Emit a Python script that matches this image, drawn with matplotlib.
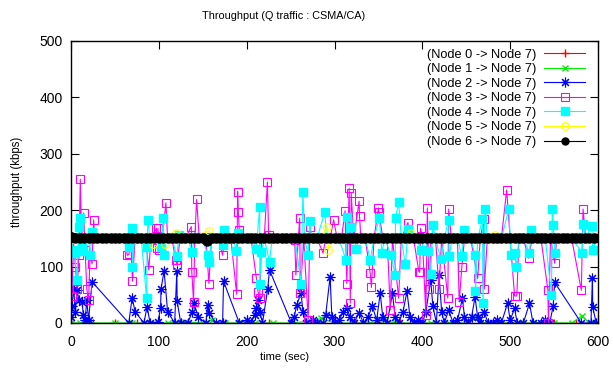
import numpy as np
import matplotlib
matplotlib.use('Agg')
from matplotlib import pyplot as plt

plt.rcParams['font.family'] = ['Liberation Sans', 'DejaVu Sans']

# node 0 (red)
t0 = [0, 25, 50, 75, 100, 125, 150, 175, 200, 225, 250, 275, 300, 325, 350,
      375, 400, 425, 450, 475, 500, 525, 550, 575, 598]
v0 = [0, 0, 0, 0, 0, 0, 0, 0, 0, 0, 0, 0, 0, 0, 0,
      0, 0, 0, 0, 0, 0, 0, 0, 0, 0]

# node 1 (green)
t1 = [0, 10, 20, 50, 70, 90, 110, 130, 150, 160, 175, 190, 210, 230, 250, 270,
      285, 300, 320, 340, 355, 370, 390, 410, 430, 450, 461, 470, 490, 510,
      530, 550, 570, 582, 590, 598]
v1 = [0, 0, 0, 0, 0, 0, 0, 2, 0, 5, 0, 0, 0, 0, 0, 3,
      8, 0, 0, 0, 5, 0, 0, 0, 0, 0, 10, 0, 0, 0,
      0, 0, 0, 13, 0, 0]

# node 2 (blue)
t2 = [0, 1, 3, 5, 7, 9, 12.5, 14, 16, 18, 20, 24, 65.8, 69.6, 73, 83, 86.7,
      90, 99, 102, 102.5, 106, 110, 118, 120.5, 120.8, 125, 133, 138, 140,
      145, 153.6, 155.5, 157, 165, 172.6, 173.7, 191.6, 200, 205, 209, 211,
      213, 215, 218, 224, 226, 251, 254, 257, 262, 264, 268, 275, 280, 287,
      290, 295, 297, 300, 305, 310, 314, 318, 322, 328, 333, 338, 343, 348,
      352, 355, 360, 366, 369, 373, 378, 382.5, 386, 390, 395, 400, 404,
      409.5, 412, 416, 419, 422, 425, 430, 435, 440, 445.7, 448, 452, 456,
      460, 463, 466, 470, 475, 480, 485, 490, 497, 500, 505, 508, 515, 522,
      526, 535, 540, 545, 549, 550.6, 581, 592, 593.6, 594, 598]
v2 = [10, 30, 60, 20, 58, 40, 38, 15, 5, 40, 5, 73, 0, 45, 20, 0, 29,
      0, 2, 27, 61, 92, 20, 0, 92, 39, 0, 0, 20, 35,
      10, 0, 32, 18, 0, 0, 74, 0, 5, 0, 15, 26,
      40, 20, 0, 61, 94, 0, 10, 32, 53, 20, 0, 5, 0, 0,
      15, 82, 10, 0, 5, 20, 26, 10, 0, 18, 0, 10, 30, 5,
      53, 10, 0, 53, 10, 0, 20, 56, 10, 0, 5, 0, 20,
      76, 30, 0, 85, 20, 0, 23, 0, 5, 44, 10, 0, 10,
      46, 10, 0, 20, 0, 0, 5, 0, 35, 5, 26, 0, 0, 35,
      0, 0, 5, 0, 30, 72, 0, 0, 79, 28, 0]

# node 3 (magenta)
t3 = [0, 1, 3, 5, 7, 9, 10.6, 12, 14.4, 16, 18, 20, 21.7, 24, 25.8, 27, 62,
      64, 66, 68, 70, 73, 80, 85, 88.6, 91, 97.3, 98, 99, 100, 104, 108, 110,
      115, 119, 121, 124, 130, 137, 137.5, 139.5, 141, 143, 146, 150, 153.6,
      157, 160, 168, 172.6, 175, 182, 188.6, 189.7, 190.5, 191.6, 194, 200,
      205, 211, 213, 214.8, 217, 220, 223.6, 225, 228, 235, 245, 250, 254.7,
      256, 260.4, 261, 265, 270, 272, 274, 280, 287, 290, 295, 299, 303, 308,
      312, 314, 316.7, 318, 319, 322, 328, 328.5, 330, 335, 340.7, 342, 345,
      350, 350.5, 355, 360, 363.5, 366, 373, 376, 383.6, 386, 390, 396, 397,
      398, 400, 404, 405.7, 407.6, 410, 415, 419, 422, 429, 430, 433, 440,
      442, 445, 448, 455, 463, 466, 470, 470.5, 474, 480, 490, 496, 500, 505,
      507.6, 510, 515, 521, 525, 535, 543, 543.5, 546, 550.6, 553, 560, 570,
      581, 583, 586, 594, 598]
v3 = [150, 47, 140, 100, 60, 120, 255, 150, 195, 130, 60, 40, 120, 105, 183, 150, 150,
      120, 122, 150, 74, 150, 150, 150, 94, 150, 168, 133, 168, 129, 150, 213, 150,
      150, 112, 102, 150, 150, 171, 91, 38, 150, 219, 150, 150, 153,
      70, 150, 150, 120, 150, 150, 51, 233, 197, 165, 150, 150,
      150, 80, 55, 44, 150, 150, 250, 156, 150, 150, 150, 150, 147,
      85, 186, 53, 150, 5, 171, 150, 150, 124, 150, 150, 183, 150, 150,
      199, 70, 239, 35, 230, 150, 216, 190, 150, 150, 88, 63, 150,
      204, 197, 150, 150, 23, 150, 44, 150, 178, 150, 150, 91, 90,
      168, 150, 14, 204, 61, 150, 150, 61, 150, 44, 202, 150, 150,
      38, 100, 150, 150, 79, 150, 184, 60, 150, 150, 150, 236, 150, 48,
      48, 150, 150, 115, 150, 150, 58, 0, 150, 106, 150, 150, 150,
      58, 202, 150, 150, 150]

# node 4 (cyan)
t4 = [0, 2, 4, 6.8, 8.7, 10.6, 12, 14, 16, 20, 22, 24, 27, 64, 65.8, 67,
      69.6, 70, 72, 80, 86, 86.7, 87.5, 90, 96, 103, 105, 105.5, 108, 115,
      120.5, 123, 126, 133, 138, 140, 145, 150, 155.5, 157, 160, 168, 173,
      174.5, 178, 185, 187.9, 189.7, 193, 200, 205, 211, 214.8, 215, 216.7,
      220, 226, 229, 240, 250, 255, 262, 264, 266, 270, 271.9, 274, 280, 289,
      291, 298, 305, 313, 314, 316, 319, 322, 325, 328, 335, 340.7, 345, 351,
      354, 357, 364.7, 369, 369.5, 373, 376, 380.6, 384, 387, 393, 399, 402,
      407, 409.5, 412, 415, 421, 425, 430, 430.5, 434, 440, 445, 447.5, 450,
      455, 460, 460.5, 463, 468.5, 469, 471.5, 474, 480, 490, 498.5, 501, 505,
      507, 510, 515, 522, 524, 527, 535, 540, 547, 548, 549, 550.6, 553, 560,
      570, 582, 583, 586, 593, 594, 598]
v4 = [150, 130, 125, 76, 171, 186, 133, 128, 150, 150, 120, 162, 150, 150, 135, 150,
      168, 100, 150, 150, 45, 135, 183, 150, 150, 135, 187, 120, 150, 150,
      118, 156, 150, 150, 126, 153, 150, 150, 120, 109, 150, 150, 138,
      165, 150, 150, 128, 159, 150, 150, 150, 132, 206, 70, 126,
      150, 109, 150, 150, 150, 150, 70, 233, 150, 120, 180, 150, 150, 197,
      150, 150, 150, 112, 188, 150, 171, 150, 132, 150, 150, 112, 150, 186,
      124, 150, 120, 85, 186, 214, 150, 104, 166, 150, 150, 129, 150,
      128, 86, 174, 150, 113, 150, 183, 119, 150, 150, 118, 165, 150,
      150, 120, 56, 150, 184, 35, 202, 150, 150, 150, 202, 120, 124,
      100, 150, 150, 124, 165, 150, 150, 150, 50, 203, 174, 124, 150, 150,
      150, 125, 175, 150, 172, 129, 150]

# node 5 (yellow)
t5 = [0, 20, 40, 60, 80, 93, 100, 107, 113, 120, 135, 157, 165, 180, 200,
      230, 260, 285, 292, 293, 300, 330, 360, 387, 395, 420, 450, 483, 500,
      530, 560, 598]
v5 = [150, 150, 150, 150, 150, 140, 150, 140, 150, 160, 150, 163, 150, 150, 150,
      150, 150, 150, 171, 129, 150, 150, 150, 160, 150, 150, 150, 156, 150,
      150, 150, 150]

# node 6 (black), sampled every 5 sec
t6 = np.arange(0, 600, 5)
v6 = [153, 151, 150, 150, 150, 151, 150, 150, 150, 150, 150, 150, 150, 150, 150,
      150, 150, 150, 150, 150, 151, 150, 150, 150, 150, 150, 150, 150, 150, 150,
      150, 146, 150, 150, 150, 150, 150, 150, 150, 150, 150, 150, 150, 150, 150,
      150, 150, 150, 150, 150, 150, 150, 150, 150, 150, 150, 150, 150, 150, 150,
      150, 150, 150, 150, 150, 150, 150, 150, 150, 150, 150, 150, 150, 150, 150,
      150, 150, 150, 150, 150, 150, 150, 150, 150, 150, 150, 150, 150, 150, 150,
      150, 150, 150, 150, 150, 150, 150, 150, 150, 150, 150, 150, 150, 150, 150,
      150, 150, 150, 150, 150, 150, 150, 150, 150, 150, 150, 150, 150, 150, 150]

fig = plt.figure(figsize=(6.13, 3.70), dpi=100)
ax = fig.add_axes([71 / 613, 1 - 323 / 370, 527 / 613, 282 / 370])

lw = 0.8
ax.plot(t0, v0, color='red', marker='+', ms=6, lw=lw, label='(Node 0 -> Node 7)')
ax.plot(t1, v1, color='#00ee00', marker='x', ms=5, lw=lw, label='(Node 1 -> Node 7)')
ax.plot(t2, v2, color='blue', marker=(8, 2, 0), ms=7, mew=0.8, lw=lw,
        label='(Node 2 -> Node 7)')
ax.plot(t3, v3, color='magenta', marker='s', ms=5.5, mfc='none', mew=0.8, lw=lw,
        label='(Node 3 -> Node 7)')
ax.plot(t4, v4, color='cyan', marker='s', ms=5.5, lw=lw, label='(Node 4 -> Node 7)')
ax.plot(t5, v5, color='yellow', marker='o', ms=5.5, mfc='none', mew=0.8, lw=lw,
        label='(Node 5 -> Node 7)')
# the black points are so dense they form a solid band
ax.plot(t6, v6, color='black', marker='o', ms=6.5, lw=6.5, label='(Node 6 -> Node 7)')

ax.set_xlim(0, 600)
ax.set_ylim(0, 500)
ax.set_xticks([0, 100, 200, 300, 400, 500, 600])
ax.set_yticks([0, 100, 200, 300, 400, 500])
ax.tick_params(direction='in', length=6, width=0.8, top=True, right=True,
               labelsize=10, pad=6)
ax.tick_params(axis='x', pad=9)
for s in ax.spines.values():
    s.set_linewidth(1.0)

fig.text(284 / 613, 1 - 16 / 370, 'Throughput (Q traffic : CSMA/CA)',
         ha='center', va='center', fontsize=7.8)
fig.text(285 / 613, 1 - 357 / 370, 'time (sec)', ha='center', va='center',
         fontsize=8)
fig.text(17 / 613, 1 - 182 / 370, 'throughput (kbps)', ha='center',
         va='center', rotation=90, fontsize=8.3)

leg = ax.legend(loc='upper right', bbox_to_anchor=(0.99, 1.0), frameon=False,
                markerfirst=False, fontsize=9.2, handlelength=3.2,
                labelspacing=0.2, handletextpad=0.6, borderaxespad=0.2)
leg.legend_handles[6].set_linewidth(lw)
leg.legend_handles[6].set_markersize(5)

plt.savefig('out.png', dpi=100)
